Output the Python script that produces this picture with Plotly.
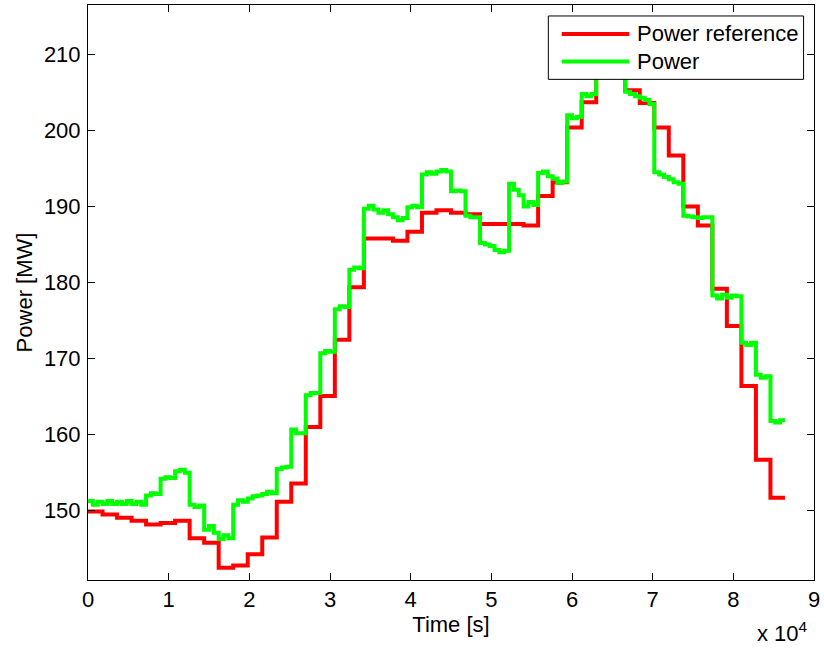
import numpy as np
import plotly.graph_objects as go

# ---------------- data ----------------
ref_interval_s = 1800      # power reference updated every 30 min
power_sample_s = 600       # power response sampled every 10 min

power_reference_mw = [
    149.9, 149.5, 149.1, 148.7, 148.2, 148.4, 148.7, 146.4, 145.8, 142.5,
    142.8, 144.3, 146.5, 151.2, 153.6, 161.0, 165.1, 172.5, 179.4, 185.8,
    185.8, 185.5, 186.7, 189.2, 189.5, 189.2, 189.0, 187.7, 187.7, 187.7,
    187.5, 191.4, 193.2, 200.4, 203.7, 208.3, 209.5, 205.3, 203.6, 200.4,
    196.7, 190.0, 187.5, 179.2, 174.3, 166.4, 156.7, 151.7,
]

power_mw = [
    151.3, 150.8, 151.2,  150.9, 151.3, 150.9,  151.2, 150.9, 151.3,
    150.9, 151.2, 150.8,  152.0, 152.3, 152.2,  154.2, 154.4, 154.3,
    155.2, 155.4, 155.0,  150.8, 150.5, 150.7,  147.5, 148.0, 147.1,
    146.3, 146.8, 146.4,  150.8, 151.4, 151.2,  151.6, 151.9, 152.0,
    152.2, 152.5, 152.3,  155.5, 155.7, 155.8,  160.7, 160.2, 160.2,
    165.2, 165.5, 165.5,  170.7, 171.0, 170.9,  176.5, 176.9, 176.8,
    181.7, 182.0, 181.9,  189.7, 190.1, 189.6,  189.2, 189.5, 189.0,
    188.6, 188.2, 188.5,  189.9, 190.1, 189.9,  194.2, 194.5, 194.3,
    194.6, 194.8, 194.6,  192.0, 192.1, 192.0,  188.8, 188.6, 188.6,
    185.2, 185.0, 184.8,  184.3, 184.0, 184.2,  193.0, 192.2, 191.5,
    190.0, 190.6, 190.2,  194.4, 194.6, 194.0,  193.7, 193.1, 193.3,
    202.0, 201.6, 201.8,  204.8, 204.5, 204.8,  209.3, 209.6, 209.4,
    209.8, 210.1, 209.7,  205.1, 204.8, 204.5,  204.3, 204.0, 203.5,
    194.5, 194.2, 193.9,  193.6, 193.2, 193.0,  188.8, 188.7, 188.6,
    188.5, 188.6, 188.6,  178.3, 177.9, 178.4,  178.0, 178.3, 178.2,
    172.1, 171.8, 172.1,  167.9, 167.5, 167.7,  161.8, 161.6, 161.9,
]

series_names = ["Power reference", "Power"]
series_colors = ["#ff0000", "#00ff00"]

x_tick_values = [0, 10000, 20000, 30000, 40000, 50000, 60000, 70000, 80000, 90000]
x_tick_labels = ["0", "1", "2", "3", "4", "5", "6", "7", "8", "9"]
y_tick_values = [150, 160, 170, 180, 190, 200, 210]
y_tick_labels = ["150", "160", "170", "180", "190", "200", "210"]

# ---------------- build traces ----------------
t_ref = np.arange(len(power_reference_mw) + 1) * ref_interval_s
y_ref = power_reference_mw + [power_reference_mw[-1]]
t_pow = np.arange(len(power_mw) + 1) * power_sample_s
y_pow = power_mw + [power_mw[-1]]

FONT = "Liberation Sans, Arial, Helvetica, sans-serif"
FS = 22

fig = go.Figure()
fig.add_trace(go.Scatter(x=t_ref, y=y_ref, mode="lines", line_shape="hv",
                         name=series_names[0],
                         line=dict(color=series_colors[0], width=4)))
fig.add_trace(go.Scatter(x=t_pow, y=y_pow, mode="lines", line_shape="hv",
                         name=series_names[1],
                         line=dict(color=series_colors[1], width=4)))

W, H = 824, 650
ML, MR, MT, MB = 88, 5, 4, 70
PW, PH = W - ML - MR, H - MT - MB


def px(xp):
    return (xp - ML) / PW


def py(yp):
    return (H - MB - yp) / PH


# manual MATLAB-style legend
shapes = [
    dict(type="rect", xref="paper", yref="paper", layer="above",
         x0=px(551.5), x1=px(808.5), y0=py(78.5), y1=py(15),
         fillcolor="white", line=dict(color="black", width=1)),
]
annotations = []
for i, (nm, col) in enumerate(zip(series_names, series_colors)):
    yy = 33 + 27.5 * i
    shapes.append(dict(type="line", xref="paper", yref="paper", layer="above",
                       x0=px(565), x1=px(633), y0=py(yy), y1=py(yy),
                       line=dict(color=col, width=4)))
    annotations.append(dict(text=nm, xref="paper", yref="paper",
                            x=px(639), y=py(yy), xanchor="left", yanchor="middle",
                            showarrow=False, font=dict(family=FONT, size=FS, color="black")))

annotations.append(dict(text="x 10<sup>4</sup>", xref="paper", yref="paper",
                        x=px(815), y=py(632), xanchor="right", yanchor="middle",
                        showarrow=False, font=dict(family=FONT, size=FS, color="black")))

fig.update_layout(
    width=W, height=H,
    margin=dict(l=ML, r=MR, t=MT, b=MB, pad=0),
    paper_bgcolor="white", plot_bgcolor="white",
    showlegend=False,
    font=dict(family=FONT, size=FS, color="black"),
    shapes=shapes, annotations=annotations,
)
fig.update_xaxes(
    range=[0, 90000], tickvals=x_tick_values, ticktext=x_tick_labels,
    ticks="inside", ticklen=7, tickcolor="black", tickwidth=1,
    showline=True, linecolor="black", linewidth=1, mirror="ticks",
    showgrid=False, zeroline=False,
    title=dict(text="Time [s]", standoff=0, font=dict(family=FONT, size=FS)),
    ticklabelstandoff=0, ticklabeloverflow="allow",
)
fig.update_yaxes(
    range=[140.9, 216.5], tickvals=y_tick_values, ticktext=y_tick_labels,
    ticks="inside", ticklen=7, tickcolor="black", tickwidth=1,
    showline=True, linecolor="black", linewidth=1, mirror="ticks",
    showgrid=False, zeroline=False,
    title=dict(text="Power [MW]", standoff=5, font=dict(family=FONT, size=FS)),
    ticklabelstandoff=2,
)

fig.write_html("out.html")
